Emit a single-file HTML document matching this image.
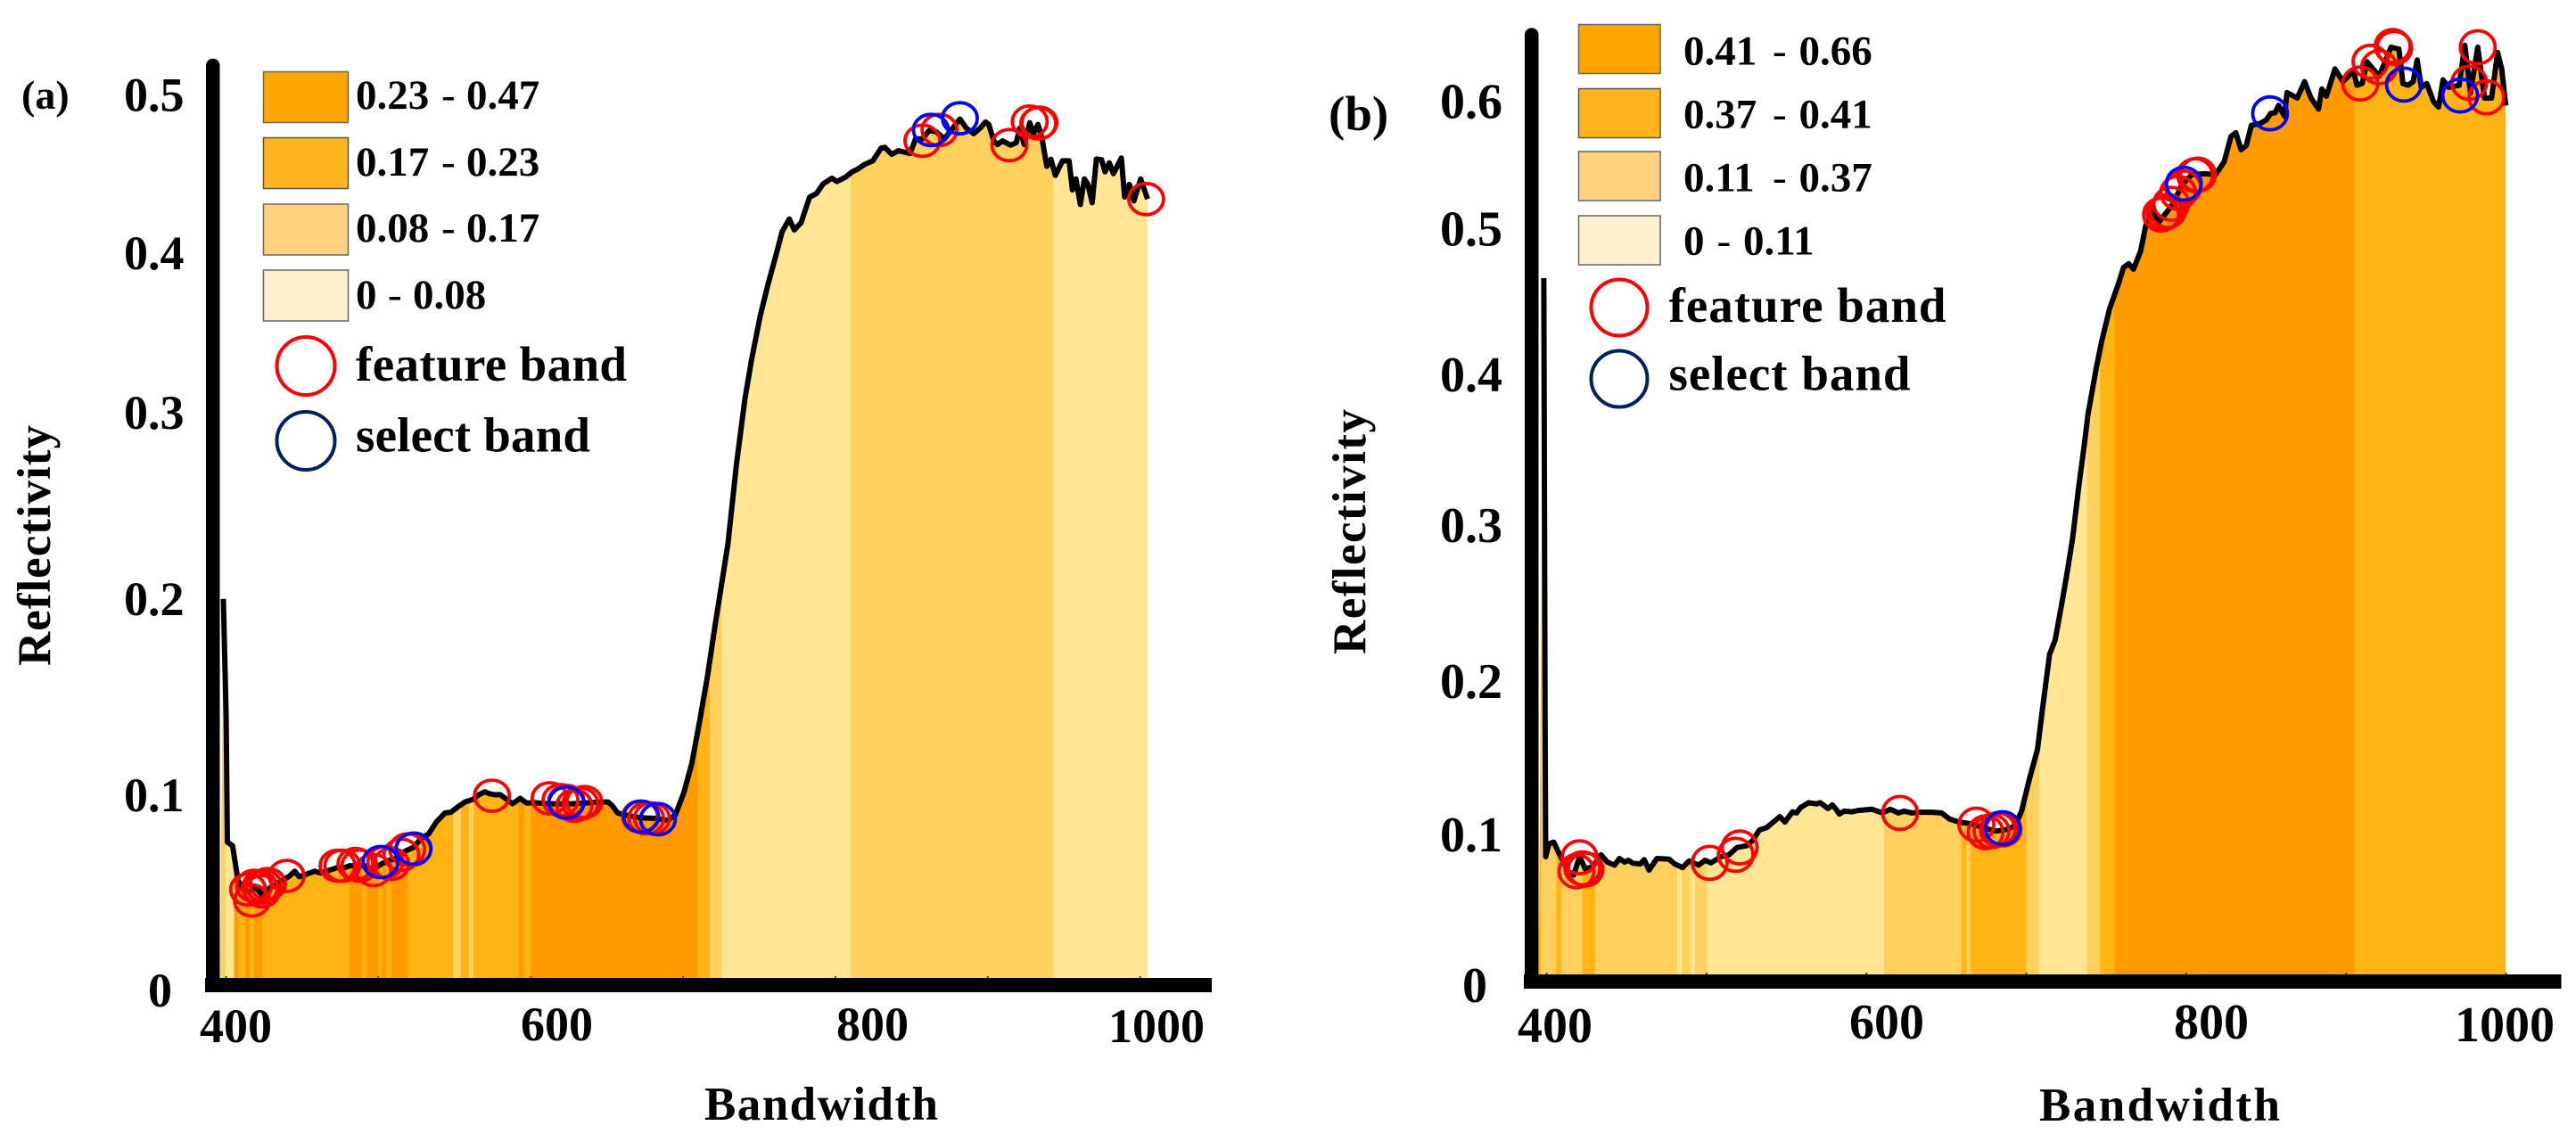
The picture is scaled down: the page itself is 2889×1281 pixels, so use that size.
<!DOCTYPE html>
<html lang="en">
<head>
<meta charset="utf-8">
<title>Reflectivity spectra with feature and select bands</title>
<style>
html,body{margin:0;padding:0;background:#fff;width:2889px;height:1281px;overflow:hidden}
svg{display:block}
text{font-family:"Liberation Serif","Times New Roman",serif;font-weight:bold;fill:#000}
.leg{font-size:47px}
.tick{font-size:54px}
.tickb{font-size:56px}
.title{font-size:53px}
.dash{font-weight:normal}
.big{font-size:55px}
</style>
</head>
<body>
<svg id="figure" xmlns="http://www.w3.org/2000/svg" width="2889" height="1281" viewBox="0 0 2889 1281">
<rect x="0" y="0" width="2889" height="1281" fill="#fff"/>

<g id="panel-a">
  <g id="plot-a"></g>
  <path d="M231 1105V73.5a7.75 7.75 0 0 1 15.5 0V1105Z" fill="#000"/>
  <rect x="230" y="1097" width="1129" height="16" fill="#000"/>
  <text x="24" y="122" font-size="46">(a)</text>
  <text class="tick" x="139" y="124.5">0.5</text>
  <text class="tick" x="139" y="302">0.4</text>
  <text class="tick" x="139" y="481">0.3</text>
  <text class="tick" x="139" y="690">0.2</text>
  <text class="tick" x="139" y="910">0.1</text>
  <text class="tick" x="166" y="1129">0</text>
  <text class="tick" x="224" y="1169">400</text>
  <text class="tick" x="584" y="1167">600</text>
  <text class="tick" x="938" y="1167">800</text>
  <text class="tick" x="1243" y="1169">1000</text>
  <text class="title" x="790" y="1256" textLength="262" lengthAdjust="spacing">Bandwidth</text>
  <text class="title" transform="translate(56 747) rotate(-90)" x="0" y="0" textLength="270" lengthAdjust="spacing">Reflectivity</text>

  <g>
    <rect x="295.5" y="80.5" width="95" height="57" fill="#ffa500" stroke="#666" stroke-width="1.5"/>
    <rect x="295.5" y="154.5" width="95" height="57" fill="#ffb41e" stroke="#555" stroke-width="1.5"/>
    <rect x="295.5" y="229" width="95" height="57" fill="#ffd27f" stroke="#666" stroke-width="1.5"/>
    <rect x="295.5" y="303" width="95" height="57" fill="#ffefcf" stroke="#666" stroke-width="1.5"/>
    <text class="leg" y="122"><tspan x="399">0.23</tspan><tspan class="dash" x="495">-</tspan><tspan x="523">0.47</tspan></text>
    <text class="leg" y="197"><tspan x="399">0.17</tspan><tspan class="dash" x="495">-</tspan><tspan x="523">0.23</tspan></text>
    <text class="leg" y="271"><tspan x="399">0.08</tspan><tspan class="dash" x="495">-</tspan><tspan x="523">0.17</tspan></text>
    <text class="leg" y="346"><tspan x="399">0</tspan><tspan class="dash" x="435">-</tspan><tspan x="463">0.08</tspan></text>
    <circle cx="343" cy="410.5" r="32.5" fill="none" stroke="#ff0000" stroke-width="4"/>
    <circle cx="343" cy="494.5" r="32.5" fill="none" stroke="#002060" stroke-width="4"/>
    <text class="big" x="399" y="427" textLength="304" lengthAdjust="spacing">feature band</text>
    <text class="big" x="399" y="506.5" textLength="263" lengthAdjust="spacing">select band</text>
  </g>
</g>

<g id="panel-b">
  <g id="plot-b"></g>
  <path d="M1710 1100V39a7.75 7.75 0 0 1 15.5 0V1100Z" fill="#000"/>
  <rect x="1709" y="1093" width="1163.5" height="16" fill="#000"/>
  <text x="1490" y="146" font-size="55">(b)</text>
  <text class="tickb" x="1615" y="132.5">0.6</text>
  <text class="tickb" x="1615" y="275.5">0.5</text>
  <text class="tickb" x="1615" y="439">0.4</text>
  <text class="tickb" x="1615" y="608">0.3</text>
  <text class="tickb" x="1615" y="783">0.2</text>
  <text class="tickb" x="1615" y="955">0.1</text>
  <text class="tickb" x="1640" y="1124">0</text>
  <text class="tickb" x="1702" y="1169">400</text>
  <text class="tickb" x="2074" y="1165">600</text>
  <text class="tickb" x="2438" y="1165">800</text>
  <text class="tickb" x="2753" y="1168">1000</text>
  <text class="title" x="2287" y="1257" textLength="270" lengthAdjust="spacing">Bandwidth</text>
  <text class="title" transform="translate(1531 734) rotate(-90)" x="0" y="0" textLength="275" lengthAdjust="spacing">Reflectivity</text>

  <g>
    <rect x="1770.5" y="27.5" width="91.5" height="55" fill="#ffa500" stroke="#666" stroke-width="1.5"/>
    <rect x="1770.5" y="99.5" width="91.5" height="55" fill="#ffb41e" stroke="#555" stroke-width="1.5"/>
    <rect x="1770.5" y="170" width="91.5" height="55" fill="#ffd27f" stroke="#666" stroke-width="1.5"/>
    <rect x="1770.5" y="242" width="91.5" height="55" fill="#ffefcf" stroke="#666" stroke-width="1.5"/>
    <text class="leg" y="72.5"><tspan x="1888">0.41</tspan><tspan class="dash" x="1988">-</tspan><tspan x="2017.5">0.66</tspan></text>
    <text class="leg" y="143.5"><tspan x="1888">0.37</tspan><tspan class="dash" x="1988">-</tspan><tspan x="2017.5">0.41</tspan></text>
    <text class="leg" y="214.5"><tspan x="1888">0.11</tspan><tspan class="dash" x="1988">-</tspan><tspan x="2017.5">0.37</tspan></text>
    <text class="leg" y="285.5"><tspan x="1888">0</tspan><tspan class="dash" x="1925.5">-</tspan><tspan x="1955">0.11</tspan></text>
    <circle cx="1816" cy="345" r="31.5" fill="none" stroke="#ff0000" stroke-width="4"/>
    <circle cx="1816" cy="425" r="31.5" fill="none" stroke="#002060" stroke-width="4"/>
    <text class="big" x="1871.5" y="361" textLength="311" lengthAdjust="spacing">feature band</text>
    <text class="big" x="1871.5" y="437.5" textLength="271" lengthAdjust="spacing">select band</text>
  </g>
</g>
</svg>

<script>
// ---------- shared ----------
const xTickValues = [400, 500, 600, 700, 800, 900, 1000];

// ---------- panel (a) data ----------
const wavelengthsA = [398.2,400,400.8,404.2,407.8,411.8,415.7,419.6,424,429,437,441.7,445,448,453.6,458,462,468,473,478,481,491,496.7,502,507,512,517.6,522.8,528,533,538,543.7,547.6,551.6,556.8,562,566,569.8,572.5,576.4,580,585.5,588,593,597.3,602.5,611.7,619.5,627,635,645.6,650.8,653.5,657,664,671.8,682,690,695,700.5,705.7,711,716,721,729.4,735,740.6,745,750.7,756,761.9,765,769.7,773,777.5,783,787.6,792,797.7,801,806.7,811,814.5,819,824.6,830,832.4,837,841.4,849,852.6,857,861.5,866,871.6,877,881.7,886,890.7,895,898.5,900.7,904,906.4,909.7,915,918.7,921,924,927.6,930,933,935.5,938.8,941.5,944.4,949,953.4,955.6,957.9,960.8,963.5,965.8,968.6,971.3,974.7,977,979.8,982.5,987.7,989.9,993,996,1000.4,1004.9];
const reflectanceA = [0.2074,0.1432,0.0743,0.0724,0.0534,0.0474,0.0474,0.0494,0.0454,0.0494,0.0534,0.0558,0.0584,0.0554,0.057,0.0584,0.0574,0.059,0.0604,0.0604,0.0614,0.0614,0.0594,0.0624,0.0644,0.0654,0.0694,0.0714,0.0763,0.0789,0.0853,0.0903,0.0907,0.0933,0.0963,0.0977,0.1003,0.1019,0.1009,0.1003,0.1003,0.0969,0.0953,0.0983,0.0957,0.0959,0.0953,0.0953,0.0953,0.0957,0.0963,0.0963,0.0943,0.0903,0.0889,0.0877,0.0873,0.0863,0.0893,0.1013,0.1172,0.1411,0.165,0.193,0.2371,0.2809,0.3167,0.3386,0.3625,0.3804,0.3983,0.4083,0.4153,0.4093,0.4133,0.4272,0.4292,0.4346,0.4376,0.4358,0.4382,0.4411,0.4425,0.4451,0.4471,0.4541,0.4545,0.4507,0.4527,0.4511,0.4591,0.4591,0.4637,0.4631,0.4591,0.465,0.47,0.465,0.462,0.465,0.4684,0.467,0.458,0.456,0.458,0.4557,0.457,0.465,0.456,0.468,0.462,0.467,0.46,0.4441,0.448,0.4391,0.4471,0.4471,0.4312,0.4372,0.4232,0.4372,0.4342,0.4242,0.4481,0.4477,0.4411,0.446,0.4401,0.4487,0.4273,0.4342,0.4252,0.4372,0.4262];
const bandEdgesA = [396,399.5,405.2,407.8,413,415.7,418.3,424,481,489.4,492,500,502.4,505,508.2,519.2,549,554.2,559.4,562.5,592,595.5,600,709.4,717.5,725.3,810,943,1005];
const bandLevelsA = [2,3,0,1,0,1,0,1,0,1,0,1,0,1,0,1,2,1,2,1,0,1,0,1,2,3,2,3];
const featureWavelengthsA = [414.4,417,418.3,422.2,424.8,427.4,423.5,439.7,473.2,476.3,484.9,487.5,496.7,504.5,508.4,515,518.9,522.8,574.5,612.4,619.5,623.4,628.6,632.6,635.2,671.8,675.7,679.6,683.5,857.1,868.3,914.2,927.6,933.2,933.9,1004];
const featureValuesA = [0.0484,0.0424,0.0504,0.0494,0.0504,0.0514,0.0474,0.0558,0.0614,0.0614,0.0624,0.0614,0.059,0.0634,0.0624,0.0674,0.0703,0.0703,0.0997,0.0983,0.0973,0.0969,0.0943,0.0953,0.0963,0.0883,0.0873,0.0873,0.0869,0.4581,0.464,0.4557,0.4686,0.4676,0.468,0.4262];
const selectWavelengthsA = [501.4,523.1,623.4,672.5,683.5,862.7,881.7];
const selectValuesA = [0.0634,0.0708,0.0959,0.0883,0.0869,0.464,0.4704];

// ---------- panel (b) data ----------
const wavelengthsB = [398.2,399,399.4,401.4,404.4,407,410.6,414.4,416.9,420.6,424.3,429.3,434,438,442.5,445.5,448.7,451,454,458.6,461,464,469,476.6,480,485,489,495,499,502.7,509,514,519,525,529,533,537.6,545.8,549,553.8,556.3,558.8,563.7,568.7,571,576,578.6,581,583,586,591,595,603.5,610,614.8,620,623.5,628.5,633.4,641,647,652,658,665.8,673,680.7,688,693,697,702,707,709.5,714.5,718,722.6,725.7,728.9,732.7,736.3,738.5,743.8,747,752,757.6,760.8,764,767,771.5,774.7,779,783,787.4,791.7,797,803.4,811.9,818.3,823.7,828,831,834.3,837.5,840.7,846,850,852.8,855.6,857.7,861.4,863,869.4,874,878,882.7,884.8,887.6,893,898,904.6,906.7,910,913,920.6,928,933,935.5,938.7,941.9,944.4,947,950.4,954.6,957.8,960.6,964,970.6,974.2,977.7,982.3,986.6,990.9,994.7,997.3,999.8];
const reflectanceB = [0.4968,0.1841,0.084,0.0931,0.0944,0.0879,0.0801,0.071,0.071,0.084,0.0749,0.0775,0.0853,0.0801,0.078,0.0827,0.0801,0.0814,0.0793,0.0788,0.0819,0.0744,0.0827,0.0822,0.0788,0.0762,0.0809,0.078,0.0814,0.0796,0.084,0.0853,0.0905,0.0918,0.0957,0.103,0.1048,0.1126,0.1087,0.116,0.1152,0.1191,0.1225,0.1217,0.1225,0.1183,0.1209,0.1178,0.1144,0.1165,0.116,0.117,0.1178,0.1152,0.1178,0.1152,0.1165,0.1152,0.1157,0.1157,0.1152,0.1108,0.1087,0.1074,0.1048,0.1022,0.1035,0.1061,0.1165,0.1399,0.1607,0.1841,0.2283,0.2387,0.2674,0.2882,0.311,0.3474,0.3785,0.3993,0.4331,0.4513,0.4747,0.4928,0.5045,0.5071,0.5032,0.5162,0.5344,0.5447,0.537,0.5434,0.5499,0.5629,0.5707,0.5713,0.5707,0.5798,0.598,0.6006,0.5884,0.5915,0.6058,0.6071,0.6097,0.6144,0.6149,0.6201,0.6123,0.6292,0.6253,0.637,0.6253,0.6175,0.6318,0.6266,0.6461,0.637,0.6449,0.6344,0.6357,0.6512,0.6409,0.6616,0.6603,0.6357,0.6344,0.637,0.6525,0.633,0.6357,0.6227,0.6188,0.6383,0.633,0.6344,0.6629,0.6291,0.6616,0.6253,0.6253,0.6578,0.6461,0.62];
const bandEdgesB = [395,396.5,406,409,411.4,422.3,430.3,481.6,484.6,489.8,492.8,500.2,611,659.5,662.5,665,700,708,738,746,755,905.2,1000];
const bandLevelsB = [1,2,1,2,2,1,2,3,2,3,2,3,2,1,2,1,2,3,2,1,0,1];
const featureWavelengthsB = [420.6,418.6,422.3,424.3,502,518.2,520.7,621,668.8,674.5,678.2,682,683.7,685.7,784.2,786.4,788.5,790.6,794.9,798.1,805.5,807.3,908.8,915.2,920.6,929.1,930.1,977,982.3,987.7];
const featureValuesB = [0.0835,0.0736,0.0757,0.0749,0.0796,0.0853,0.0905,0.1152,0.1069,0.1014,0.1022,0.1035,0.104,0.1035,0.5422,0.5434,0.5447,0.5499,0.5577,0.5616,0.5702,0.5707,0.6357,0.6512,0.6473,0.6624,0.6611,0.6362,0.6616,0.6258];
const selectWavelengthsB = [685.2,798.5,852.4,936.1,971.3];
const selectValuesB = [0.1043,0.5642,0.6144,0.6349,0.6271];

// ---------- drawing ----------
const SVG_NS = 'http://www.w3.org/2000/svg';
const bandPalette = ['#ff9b00', '#ffb414', '#ffd05e', '#ffe594'];

function make(tag) {
  return document.createElementNS(SVG_NS, tag);
}

function drawPanel(opts) {
  const root = document.getElementById(opts.rootId);
  const xScale = function (w) { return opts.x400 + (w - 400) * opts.pxPerNm; };
  const yScale = function (r) { return opts.y0 - r * opts.pxPerUnit; };
  const wl = opts.wavelengths;
  const rf = opts.reflectance;

  const linePts = wl.map(function (w, i) { return xScale(w).toFixed(1) + ',' + yScale(rf[i]).toFixed(1); });
  const lastIdx = wl.length - 1;
  const areaPts = [xScale(opts.bandEdges[0]).toFixed(1) + ',' + opts.y0]
    .concat(linePts)
    .concat([xScale(wl[lastIdx]).toFixed(1) + ',' + opts.y0]);

  const defs = make('defs');
  const clip = make('clipPath');
  clip.setAttribute('id', opts.clipId);
  const clipPoly = make('polygon');
  clipPoly.setAttribute('points', areaPts.join(' '));
  clip.appendChild(clipPoly);
  defs.appendChild(clip);
  root.appendChild(defs);

  const bandGroup = make('g');
  bandGroup.setAttribute('clip-path', 'url(#' + opts.clipId + ')');
  
  
  opts.bandLevels.forEach(function (level, i) {
    const left = xScale(opts.bandEdges[i]);
    const right = xScale(opts.bandEdges[i + 1]);
    const r = make('rect');
    r.setAttribute('x', left.toFixed(1));
    r.setAttribute('y', 0);
    r.setAttribute('width', (right - left + 0.4).toFixed(1));
    r.setAttribute('height', opts.y0);
    r.setAttribute('fill', bandPalette[level]);
    
    
    bandGroup.appendChild(r);
  });
  root.appendChild(bandGroup);

  xTickValues.forEach(function (t) {
    const tk = make('rect');
    tk.setAttribute('x', (xScale(t) - 1).toFixed(1));
    tk.setAttribute('y', opts.y0 - 2);
    tk.setAttribute('width', 2);
    tk.setAttribute('height', 3);
    tk.setAttribute('fill', '#444');
    
    
    root.appendChild(tk);
  });

  const line = make('polyline');
  line.setAttribute('points', linePts.join(' '));
  line.setAttribute('fill', 'none');
  line.setAttribute('stroke', '#000');
  line.setAttribute('stroke-width', opts.lineWidth);
  line.setAttribute('stroke-linejoin', 'round');
  
  
  root.appendChild(line);

  opts.featureW.forEach(function (w, i) {
    const e = make('ellipse');
    e.setAttribute('cx', xScale(w).toFixed(1));
    e.setAttribute('cy', yScale(opts.featureV[i]).toFixed(1));
    e.setAttribute('rx', opts.rx);
    e.setAttribute('ry', opts.ry);
    e.setAttribute('fill', 'none');
    e.setAttribute('stroke', '#ff0000');
    e.setAttribute('stroke-width', 3.8);
    
    
    root.appendChild(e);
  });

  opts.selectW.forEach(function (w, i) {
    const e = make('ellipse');
    e.setAttribute('cx', xScale(w).toFixed(1));
    e.setAttribute('cy', yScale(opts.selectV[i]).toFixed(1));
    e.setAttribute('rx', opts.rx);
    e.setAttribute('ry', opts.ry);
    e.setAttribute('fill', 'none');
    e.setAttribute('stroke', '#0000ff');
    e.setAttribute('stroke-width', 3.8);
    
    
    root.appendChild(e);
  });
}

drawPanel({
  rootId: 'plot-a', clipId: 'area-clip-a',
  x400: 253.6, pxPerNm: 1.7083, y0: 1097, pxPerUnit: 2050,
  lineWidth: 6, rx: 19.5, ry: 17.5,
  wavelengths: wavelengthsA, reflectance: reflectanceA,
  bandEdges: bandEdgesA, bandLevels: bandLevelsA,
  featureW: featureWavelengthsA, featureV: featureValuesA,
  selectW: selectWavelengthsA, selectV: selectValuesA
});

drawPanel({
  rootId: 'plot-b', clipId: 'area-clip-b',
  x400: 1734.6, pxPerNm: 1.7933, y0: 1093, pxPerUnit: 1572,
  lineWidth: 6, rx: 19.5, ry: 18.5,
  wavelengths: wavelengthsB, reflectance: reflectanceB,
  bandEdges: bandEdgesB, bandLevels: bandLevelsB,
  featureW: featureWavelengthsB, featureV: featureValuesB,
  selectW: selectWavelengthsB, selectV: selectValuesB
});
</script>
</body>
</html>
